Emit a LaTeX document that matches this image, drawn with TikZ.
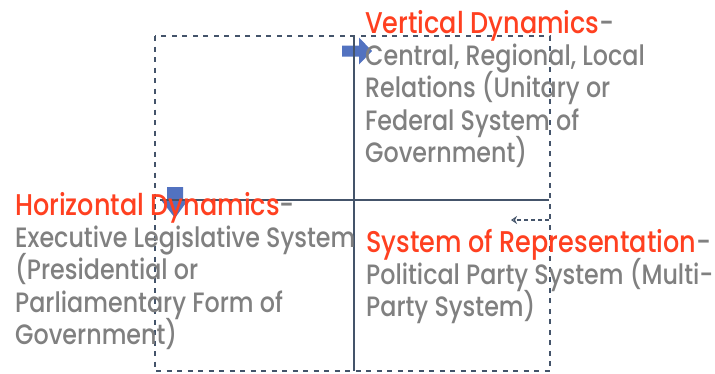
\documentclass[tikz,border=0pt]{standalone}
\usepackage{fontspec}
\setmainfont{Poppins}[FakeStretch=0.85, UprightFont=* Medium]
\usetikzlibrary{positioning, arrows.meta}
\definecolor{framecol}{RGB}{68,84,106}
\definecolor{arrowblue}{RGB}{82,114,192}
\definecolor{titlered}{RGB}{255,64,32}
\definecolor{bodygrey}{RGB}{128,128,128}
\tikzset{
  axis/.style={framecol, line width=2.2pt}, % the two solid axes
  frame/.style={framecol, line width=2.6pt, dash pattern=on 5pt off 5.5pt},
  hint/.style={framecol, line width=1.8pt, dash pattern=on 4pt off 3pt, -{Stealth[length=6pt,width=8pt,open]}},
  blockarrow/.style={fill=arrowblue, draw=none},
  txt/.style={anchor=base west, inner sep=0pt, text=bodygrey, font=\fontsize{28}{32}\selectfont},
  heading/.style={txt, font=\fontsize{30}{34}\selectfont},
}

\begin{document}
\begin{tikzpicture}[x=1pt, y=-1pt]
    \useasboundingbox (0,0) rectangle (715,373);

    % corner points of the frame and the axes
    \coordinate (fnw) at (155,36);
    \coordinate (fse) at (550,371);
    \coordinate (vtop) at (354,36);
    \coordinate (vbot) at (354,371);
    \coordinate (hleft) at (160,200);
    \coordinate (hright) at (549,200);
    \coordinate (hintstart) at (549,220);
    \coordinate (hintend) at (511,220);

    % block arrows
    \fill[blockarrow] (342,45.5) -- (359,45.5) -- (359,37.5) -- (372,51) -- (359,64.5) -- (359,56.5) -- (342,56.5) -- cycle;
    \fill[blockarrow] (167,187) -- (183,187) -- (183,200) -- (188,200) -- (175,218) -- (161,200) -- (167,200) -- cycle;

    \draw[frame] (fnw) rectangle (fse);
    \draw[axis] (vtop) -- (vbot);
    \draw[axis] (hleft) -- (hright);
    \draw[hint] (hintstart) -- (hintend);

    % vertical dynamics
    \node[heading] (vt) at (365,33) {\textcolor{titlered}{Vertical Dynamics}-};
    \node[txt, below=32pt of vt.base west, anchor=base west] (vt1) {Central, Regional, Local};
    \node[txt, below=32.5pt of vt1.base west, anchor=base west] (vt2) {Relations (Unitary or};
    \node[txt, below=32.5pt of vt2.base west, anchor=base west] (vt3) {Federal System of};
    \node[txt, below=32.5pt of vt3.base west, anchor=base west] (vt4) {Government)};

    % horizontal dynamics
    \node[heading] (hz) at (15,215) {\textcolor{titlered}{Horizontal Dynamics}-};
    \node[txt, below=32pt of hz.base west, anchor=base west] (hz1) {Executive Legislative System};
    \node[txt, below=32.5pt of hz1.base west, anchor=base west] (hz2) {(Presidential or};
    \node[txt, below=32.5pt of hz2.base west, anchor=base west] (hz3) {Parliamentary Form of};
    \node[txt, below=32.5pt of hz3.base west, anchor=base west] (hz4) {Government)};

    % system of representation
    \node[heading] (sr) at (366,252) {\textcolor{titlered}{System of Representation}-};
    \node[txt, below=32pt of sr.base west, anchor=base west] (sr1) {Political Party System (Multi-};
    \node[txt, below=32.5pt of sr1.base west, anchor=base west] (sr2) {Party System)};
\end{tikzpicture}
\end{document}
